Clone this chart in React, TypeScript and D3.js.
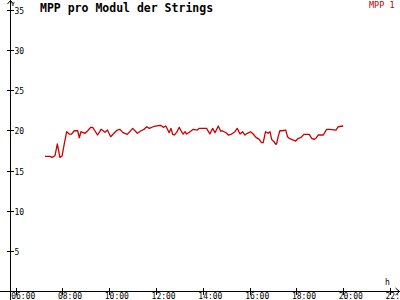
import React from "react";
import * as d3 from "d3";

const title = "MPP pro Modul der Strings";
const seriesName = "MPP 1";
const yTicks = [5, 10, 15, 20, 25, 30, 35];
const xTicks = [6, 8, 10, 12, 14, 16, 18, 20, 22];
const xTickLabels = ["06:00", "08:00", "10:00", "12:00", "14:00", "16:00", "18:00", "20:00", "22:00"];

const hours = [
  7.25, 7.47, 7.55, 7.68, 7.78, 7.89, 7.98, 8.08, 8.18, 8.29, 8.39, 8.5, 8.65, 8.72, 8.79, 8.96,
  9.08, 9.21, 9.29, 9.5, 9.65, 9.82, 9.92, 10.06, 10.2, 10.34, 10.46, 10.57, 10.77, 11.0, 11.2,
  11.34, 11.5, 11.6, 11.71, 11.88, 12.09, 12.2, 12.31, 12.42, 12.56, 12.64, 12.71, 12.78, 12.88,
  12.99, 13.09, 13.16, 13.24, 13.31, 13.45, 13.59, 13.76, 13.85, 14.05, 14.16, 14.3, 14.42, 14.52,
  14.66, 14.76, 14.85, 14.99, 15.09, 15.23, 15.37, 15.47, 15.59, 15.7, 15.8, 15.9, 16.04, 16.15,
  16.27, 16.41, 16.51, 16.58, 16.68, 16.79, 16.87, 16.94, 17.04, 17.11, 17.15, 17.22, 17.29, 17.39,
  17.54, 17.62, 17.69, 17.79, 17.97, 18.08, 18.18, 18.32, 18.55, 18.65, 18.75, 18.83, 18.93, 19.15,
  19.29, 19.43, 19.69, 19.79, 20.0,
];
const values = [
  16.77, 16.77, 16.65, 16.85, 18.31, 16.65, 16.81, 18.39, 19.84, 19.55, 19.55, 19.96, 19.96, 19.09,
  19.84, 19.64, 19.96, 20.39, 20.39, 19.43, 20.14, 19.76, 20.05, 19.22, 19.64, 20.05, 20.14, 19.76,
  19.51, 20.26, 19.64, 19.93, 20.17, 20.46, 20.26, 20.46, 20.59, 20.64, 20.39, 20.55, 19.72, 20.26,
  19.51, 19.43, 19.76, 20.39, 19.84, 19.55, 19.84, 19.55, 19.84, 20.14, 20.05, 20.26, 20.26, 20.26,
  19.55, 20.26, 19.71, 20.55, 19.93, 19.93, 19.71, 19.43, 19.55, 19.84, 20.26, 19.55, 19.84, 19.43,
  19.64, 19.84, 19.55, 19.14, 18.89, 18.47, 18.47, 19.84, 19.64, 19.84, 18.89, 18.59, 18.31, 18.31,
  19.22, 19.96, 19.96, 20.05, 19.22, 19.02, 18.89, 18.68, 19.02, 19.09, 19.51, 19.51, 19.02, 18.89,
  19.02, 19.43, 19.43, 20.14, 20.14, 20.05, 20.46, 20.55,
];

export default function App() {
  const W = 400;
  const H = 300;
  const x = d3.scaleLinear().domain([6, 22]).range([15.7, 390]);
  const y = d3.scaleLinear().domain([0, 35]).range([291, 10]);
  const pts: [number, number][] = hours.map((h, i) => [h, values[i]]);
  const line = d3
    .line<[number, number]>()
    .x((d) => x(d[0]))
    .y((d) => y(d[1]));
  const font = "'DejaVu Sans Mono', monospace";
  const axisX = 10.5;
  const axisY = 291.5;

  return (
    <svg
      width={W}
      height={H}
      style={{ position: "absolute", left: 0, top: 0, background: "#fff" }}
      fontFamily={font}
    >
      <rect x={0} y={0} width={W} height={H} fill="#fff" />
      {/* y axis */}
      <line x1={axisX} y1={0} x2={axisX} y2={H} stroke="#000" strokeWidth={1} shapeRendering="crispEdges" />
      <path d={`M${axisX - 3},4 L${axisX},0.5 L${axisX + 3},4`} fill="none" stroke="#000" strokeWidth={1} />
      {/* x axis */}
      <line x1={0} y1={axisY} x2={W} y2={axisY} stroke="#000" strokeWidth={1} shapeRendering="crispEdges" />
      <path d={`M395.5,${axisY - 3.5} L399.5,${axisY} L395.5,${axisY + 3.5}`} fill="none" stroke="#000" strokeWidth={1} />
      {yTicks.map((t) => (
        <g key={"y" + t}>
          <line
            x1={7}
            x2={14}
            y1={Math.round(y(t)) + 0.5}
            y2={Math.round(y(t)) + 0.5}
            stroke="#000"
            shapeRendering="crispEdges"
          />
          <text x={14.5} y={Math.round(y(t)) + 3.5} fontSize={8} fill="#000">
            {String(t)}
          </text>
        </g>
      ))}
      {xTicks.map((t, i) => (
        <g key={"x" + t}>
          <line
            x1={Math.round(x(t)) + 0.5}
            x2={Math.round(x(t)) + 0.5}
            y1={288}
            y2={295}
            stroke="#000"
            shapeRendering="crispEdges"
          />
          <text x={x(t) - 4.5} y={299.3} fontSize={8} fill="#000">
            {xTickLabels[i]}
          </text>
        </g>
      ))}
      <text x={11} y={6} fontSize={6} fill="#000">V</text>
      <text x={385} y={285} fontSize={8} fill="#000">h</text>
      <text x={40} y={12} fontSize={11.5} fontWeight="bold" fill="#000">
        {title}
      </text>
      <text x={394.5} y={7.5} fontSize={8.5} fill="#c00000" textAnchor="end">
        {seriesName}
      </text>
      <path d={line(pts) || ""} fill="none" stroke="#cc0000" strokeWidth={1.3} strokeLinejoin="round" />
    </svg>
  );
}
